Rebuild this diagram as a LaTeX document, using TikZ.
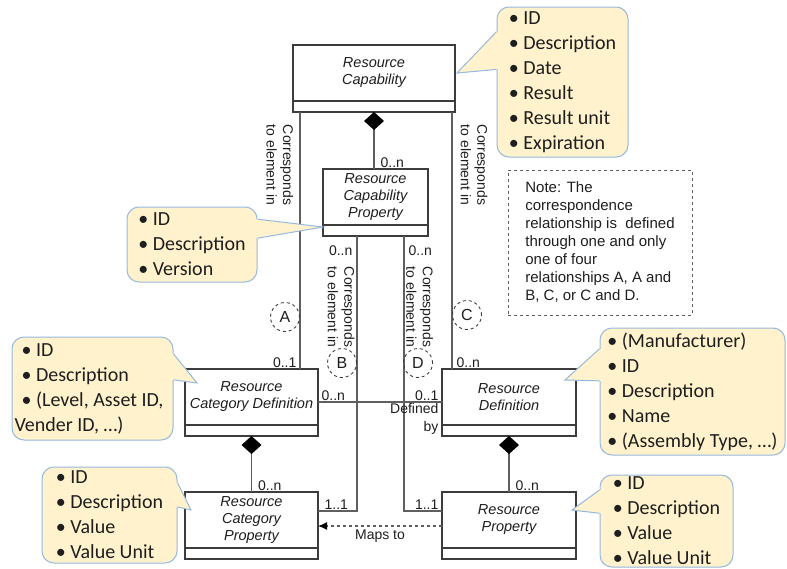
\documentclass[tikz,border=0pt]{standalone}
\usepackage{fontspec}
\setmainfont{Liberation Sans}
\newfontfamily\calfont{Carlito}
\usetikzlibrary{positioning,calc,arrows.meta}

\definecolor{notefill}{RGB}{255,242,204}
\definecolor{noteline}{RGB}{150,185,222}
\definecolor{boxline}{RGB}{60,60,60}
\definecolor{connline}{RGB}{95,95,95}
\definecolor{labeltext}{RGB}{30,30,30}

\tikzset{
  classhead/.style={draw=boxline, line width=1.2pt, fill=white, minimum height=56pt,
    inner sep=0pt, outer sep=0pt, align=center, text=labeltext,
    font=\fontsize{14.5}{17}\selectfont\itshape},
  classcomp/.style={draw=boxline, line width=1.2pt, fill=white, minimum height=11pt,
    inner sep=0pt, outer sep=0pt},
  conn/.style={draw=connline, line width=1.2pt},
  compos/.style={conn, {Diamond[length=18pt,width=20pt,color=black]}-},
  mult/.style={font=\fontsize{14}{18}\selectfont, inner sep=1pt, text=labeltext},
  refnote/.style={font=\fontsize{14}{16.5}\selectfont, align=left, rotate=-90,
    inner sep=0pt, text=labeltext},
  letter/.style={circle, draw=boxline, dashed, line width=0.9pt, minimum size=29pt,
    inner sep=0pt, font=\fontsize{16}{18}\selectfont, text=labeltext},
  notebox/.style={draw=connline, dashed, line width=1pt, align=left, inner sep=0pt,
    font=\fontsize{15}{18}\selectfont, text=labeltext},
  callout/.style={draw=noteline, fill=notefill, line width=1pt, rounded corners=12pt,
    inner xsep=2pt, inner ysep=0pt, align=left, text=labeltext,
    font=\calfont\fontsize{20}{25}\selectfont},
}

% pointer of a callout: node, tip, side, inward shift
\newcommand{\noteptr}[4]{%
  \fill[notefill] (#2) -- ($(#1.north #3)!2/12!(#1.south #3)$)
    -- ($(#1.north #3)!2/12!(#1.south #3)+(#4,0)$)
    -- ($(#1.north #3)!5/12!(#1.south #3)+(#4,0)$)
    -- ($(#1.north #3)!5/12!(#1.south #3)$) -- cycle;
  \draw[noteline, line width=1pt] ($(#1.north #3)!2/12!(#1.south #3)$) -- (#2)
    -- ($(#1.north #3)!5/12!(#1.south #3)$);
}

\begin{document}
\begin{tikzpicture}[x=1pt,y=-1pt]
  \useasboundingbox (0,0) rectangle (787,568);

  % classes
  \node[classhead, minimum width=162pt] (rescap) at (374,73) {Resource\\Capability};
  \node[classcomp, minimum width=162pt, below=0pt of rescap] (rescapc) {};
  \node[classhead, minimum width=105pt] (capprop) at (375.5,197) {Resource\\Capability\\Property};
  \node[classcomp, minimum width=105pt, below=0pt of capprop] (cappropc) {};
  \node[classhead, minimum width=133pt] (catdef) at (251.5,397) {Resource\\Category Definition};
  \node[classcomp, minimum width=133pt, below=0pt of catdef] (catdefc) {};
  \node[classhead, minimum width=134pt] (resdef) at (509,397) {Resource\\Definition};
  \node[classcomp, minimum width=134pt, below=0pt of resdef] (resdefc) {};
  \node[classhead, minimum width=133pt] (catprop) at (251.5,520) {Resource\\Category\\Property};
  \node[classcomp, minimum width=133pt, below=0pt of catprop] (catpropc) {};
  \node[classhead, minimum width=134pt] (resprop) at (509,520) {Resource\\Property};
  \node[classcomp, minimum width=134pt, below=0pt of resprop] (respropc) {};

  \coordinate (aup) at ([xshift=7pt]rescapc.south west);
  \coordinate (cup) at ([xshift=-3pt]rescapc.south east);
  \coordinate (bup) at ([xshift=34pt]cappropc.south west);
  \coordinate (dup) at ([xshift=-24pt]cappropc.south east);

  % connectors
  \draw[compos] (rescapc.south) -- node[mult, pos=1, anchor=south west, xshift=5pt] (capmult) {0..n}
    (rescapc.south |- capprop.north);
  \draw[conn] (aup) -- node[mult, pos=1, anchor=south east, xshift=-2pt] (amult) {0..1}
    (aup |- catdef.north);
  \draw[conn] (cup) -- node[mult, pos=1, anchor=south west, xshift=3pt] (cmult) {0..n}
    (cup |- resdef.north);
  \draw[conn] (bup) |- node[mult, pos=0, anchor=north east, xshift=-3pt, yshift=-8pt] (bmult) {0..n}
    node[mult, pos=1, anchor=south west, xshift=5pt] (bmultend) {1..1} ([yshift=9pt]catprop.east);
  \draw[conn] (dup) |- node[mult, pos=0, anchor=north west, xshift=3pt, yshift=-8pt] (dmult) {0..n}
    node[mult, pos=1, anchor=south east, xshift=-2pt] (dmultend) {1..1} ([yshift=9pt]resprop.west);
  \draw[conn] ([yshift=-5pt]catdef.east)
    -- node[mult, pos=0, anchor=south west, xshift=2pt] (defmult) {0..n}
       node[mult, pos=1, anchor=south east, xshift=-2pt] (defmultend) {0..1}
       node[mult, pos=1, anchor=north east, align=right, xshift=-2pt] (deflbl) {Defined\\by}
    ([yshift=-5pt]resdef.west);
  \draw[compos] (catdefc.south) -- node[mult, pos=1, anchor=south west, xshift=5pt] (catmult) {0..n}
    (catprop.north);
  \draw[compos] (resdefc.south) -- node[mult, pos=1, anchor=south west, xshift=5pt] (resmult) {0..n}
    (resprop.north);
  \draw[conn, dashed, -{Latex[length=9pt,width=8pt,color=black]}] ([yshift=-6pt]resprop.west)
    -- node[mult, below=2pt] (mapslbl) {Maps to} ([yshift=-6pt]catprop.east);

  % correspondence labels
  \node[refnote] (corra) at (280,165) {Corresponds\\to element in};
  \node[refnote] (corrc) at (474,165) {Corresponds\\to element in};
  \node[refnote] (corrb) at (341,307) {Corresponds\\to element in};
  \node[refnote] (corrd) at (419.5,307) {Corresponds\\to element in};
  \node[letter] (marka) at (285,317) {A};
  \node[letter] (markb) at (342,363) {B};
  \node[letter] (markc) at (467,315) {C};
  \node[letter] (markd) at (418,363) {D};

  \node[notebox, minimum width=184pt, minimum height=145pt] (corrnote) at (600,242.5)
    {Note: The\\correspondence\\relationship is\ \ defined\\through one and only\\one of four\\relationships A, A and\\B, C, or C and D.};

  % callouts
  \node[callout, minimum width=131pt, minimum height=150pt] (capinfo) at (562.5,82)
    {• ID\\• Description\\• Date\\• Result\\• Result unit\\• Expiration};
  \coordinate (capinfotip) at ([xshift=2pt]rescap.east);
  \noteptr{capinfo}{capinfotip}{west}{3}

  \node[callout, minimum width=130pt, minimum height=75pt] (cappropinfo) at (192,244.5)
    {• ID\\• Description\\• Version};
  \coordinate (cappropinfotip) at ([yshift=-2pt]capprop.south west);
  \noteptr{cappropinfo}{cappropinfotip}{east}{-3}

  \node[callout, minimum width=161pt, minimum height=103pt] (catdefinfo) at (92.5,388.5)
    {• ID\\• Description\\• (Level, Asset ID,\\\hspace*{-7pt}Vender ID, …)};
  \coordinate (catdefinfotip) at ($(catdef.north west)+(12,14)$);
  \noteptr{catdefinfo}{catdefinfotip}{east}{-3}

  \node[callout, minimum width=185pt, minimum height=127pt] (resdefinfo) at (692.5,391.5)
    {• (Manufacturer)\\• ID\\• Description\\• Name\\• (Assembly Type, …)};
  \coordinate (resdefinfotip) at ($(resdef.north east)+(-11,11)$);
  \noteptr{resdefinfo}{resdefinfotip}{west}{3}

  \node[callout, minimum width=135pt, minimum height=96pt] (catpropinfo) at (109.5,515)
    {• ID\\• Description\\• Value\\• Value Unit};
  \coordinate (catpropinfotip) at ($(catprop.north west)+(6,18)$);
  \noteptr{catpropinfo}{catpropinfotip}{east}{-3}

  \node[callout, minimum width=133pt, minimum height=92pt] (respropinfo) at (666.5,521)
    {• ID\\• Description\\• Value\\• Value Unit};
  \coordinate (respropinfotip) at ($(resprop.north east)+(-4,18)$);
  \noteptr{respropinfo}{respropinfotip}{west}{3}
\end{tikzpicture}
\end{document}
